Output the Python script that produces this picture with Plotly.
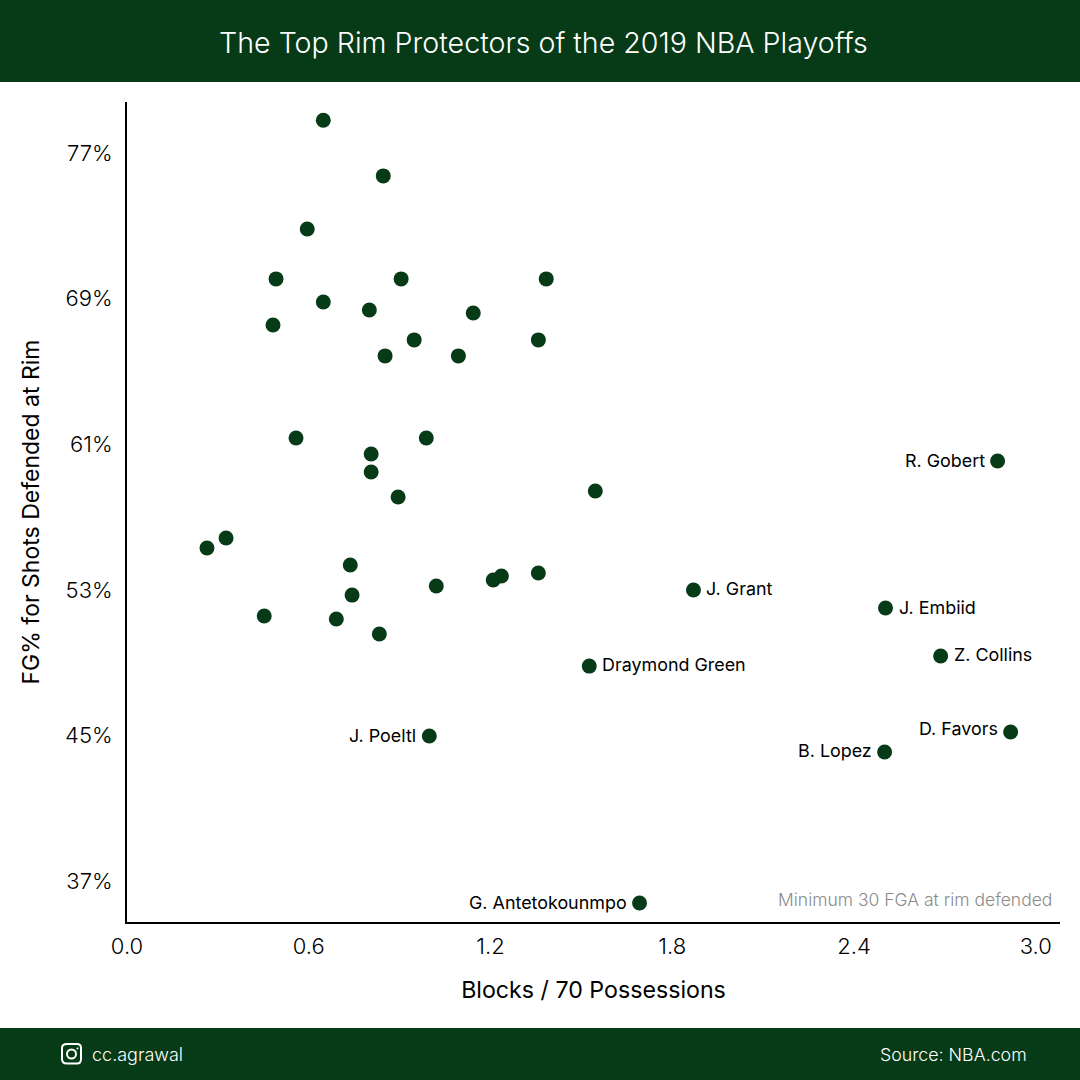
import plotly.graph_objects as go

GREEN = '#073a17'
INK = '#000000'

# blocks per 70 possessions, FG% at the rim
blocks = [0.648, 0.846, 0.595, 0.492, 0.905, 1.384, 0.648, 0.80, 1.143, 0.482,
          0.948, 1.358, 0.852, 1.094, 0.558, 0.988, 0.806, 0.806, 1.546, 0.895,
          0.327, 0.264, 0.737, 1.358, 1.236, 1.209, 1.021, 0.743, 0.453, 0.691,
          0.833]
fg_pct = [78.8, 75.74, 72.82, 70.08, 70.08, 70.08, 68.81, 68.37, 68.21, 67.55,
          66.73, 66.73, 65.85, 65.85, 61.34, 61.34, 60.46, 59.47, 58.43, 58.1,
          55.85, 55.3, 54.36, 53.92, 53.76, 53.54, 53.21, 52.71, 51.56, 51.4,
          50.57]

named_players = ['R. Gobert', 'J. Grant', 'J. Embiid', 'Z. Collins', 'Draymond Green',
                 'D. Favors', 'J. Poeltl', 'B. Lopez', 'G. Antetokounmpo']
named_blocks = [2.874, 1.87, 2.504, 2.686, 1.526, 2.917, 0.998, 2.501, 1.692]
named_fg_pct = [60.08, 52.99, 52.0, 49.36, 48.81, 45.19, 44.97, 44.09, 35.79]
label_side = ['left', 'right', 'right', 'right', 'right', 'left', 'left', 'left', 'left']
label_dy = [0, 2, 1, 2, 2, 3, 0, 1, 1]

x_ticks = [0.0, 0.6, 1.2, 1.8, 2.4, 3.0]
y_ticks = [37, 45, 53, 61, 69, 77]
y_tick_labels = ['37%', '45%', '53%', '61%', '69%', '77%']

fig = go.Figure()
fig.add_trace(go.Scatter(x=blocks + named_blocks,
                         y=fg_pct + named_fg_pct,
                         mode='markers',
                         marker=dict(color=GREEN, size=15),
                         cliponaxis=False,
                         showlegend=False))

for name, bx, fy, side, dy in zip(named_players, named_blocks, named_fg_pct, label_side, label_dy):
    fig.add_annotation(x=bx, y=fy, text=name, showarrow=False,
                       xanchor='right' if side == 'left' else 'left',
                       xshift=-11 if side == 'left' else 11,
                       yshift=dy,
                       font=dict(size=17.9, color=INK))

fig.update_layout(
    width=1080, height=1080,
    margin=dict(l=0, r=0, t=0, b=0),
    paper_bgcolor='white', plot_bgcolor='white',
    font=dict(family='Inter', color=INK),
    showlegend=False,
    xaxis=dict(domain=[127 / 1080, 1060 / 1080], range=[0, 3.08],
               tickvals=x_ticks, tickformat='.1f', showgrid=False, zeroline=False,
               showline=True, linecolor='black', linewidth=2, ticks='',
               ticklabelstandoff=4, tickfont=dict(size=22, color=INK, weight=300),
               title=dict(text='Blocks / 70 Possessions', standoff=23,
                          font=dict(size=23.2, color=INK)),
               automargin=False),
    yaxis=dict(domain=[158 / 1080, 978 / 1080], range=[34.75, 79.8],
               tickvals=y_ticks, ticktext=y_tick_labels, showgrid=False, zeroline=False,
               showline=True, linecolor='black', linewidth=2, ticks='',
               ticklabelstandoff=8, tickfont=dict(size=22, color=INK, weight=300),
               title=dict(text='FG% for Shots Defended at Rim', standoff=19,
                          font=dict(size=23, color=INK)),
               automargin=False),
)

# header and footer bands
fig.add_shape(type='rect', xref='paper', yref='paper', x0=0, x1=1, y0=1 - 82 / 1080, y1=1,
              fillcolor=GREEN, line_width=0, layer='below')
fig.add_shape(type='rect', xref='paper', yref='paper', x0=0, x1=1, y0=0, y1=52 / 1080,
              fillcolor=GREEN, line_width=0, layer='below')

fig.add_annotation(xref='paper', yref='paper', x=543 / 1080, y=1 - 42.6 / 1080, yanchor='middle',
                   text='The Top Rim Protectors of the 2019 NBA Playoffs',
                   showarrow=False, font=dict(size=28.6, color='white', weight=300))
fig.add_annotation(xref='paper', yref='paper', x=90 / 1080, y=26 / 1080, xanchor='left', yanchor='middle',
                   text='cc.agrawal',
                   showarrow=False, font=dict(size=18, color='white', weight=300))
fig.add_annotation(xref='paper', yref='paper', x=1029 / 1080, y=26 / 1080, xanchor='right', yanchor='middle',
                   text='Source: NBA.com',
                   showarrow=False, font=dict(size=17.8, color='white', weight=300))
fig.add_annotation(xref='paper', yref='paper', x=1054 / 1080, y=1 - 899 / 1080, xanchor='right', yanchor='middle',
                   text='Minimum 30 FGA at rim defended',
                   showarrow=False, font=dict(size=17.5, color='#8c8c8c', weight=300))

# instagram glyph
fig.add_shape(type='path', xref='paper', yref='paper', line=dict(color='white', width=2),
              path=' '.join(['M', f'{67/1080},{1-1044/1080}', 'L', f'{77/1080},{1-1044/1080}',
                             'Q', f'{81/1080},{1-1044/1080}', f'{81/1080},{1-1048/1080}',
                             'L', f'{81/1080},{1-1059/1080}',
                             'Q', f'{81/1080},{1-1063.5/1080}', f'{77/1080},{1-1063.5/1080}',
                             'L', f'{67/1080},{1-1063.5/1080}',
                             'Q', f'{62/1080},{1-1063.5/1080}', f'{62/1080},{1-1059/1080}',
                             'L', f'{62/1080},{1-1048/1080}',
                             'Q', f'{62/1080},{1-1044/1080}', f'{67/1080},{1-1044/1080}', 'Z']))
fig.add_shape(type='circle', xref='paper', yref='paper', line=dict(color='white', width=2),
              x0=67 / 1080, x1=76 / 1080, y0=1 - 1058.5 / 1080, y1=1 - 1049.5 / 1080)
fig.add_shape(type='circle', xref='paper', yref='paper', line_width=0, fillcolor='white',
              x0=76.5 / 1080, x1=78.5 / 1080, y0=1 - 1049.5 / 1080, y1=1 - 1047.5 / 1080)

fig.write_html('out.html', config={'displayModeBar': False},
               post_script="document.body.style.margin='0';")
